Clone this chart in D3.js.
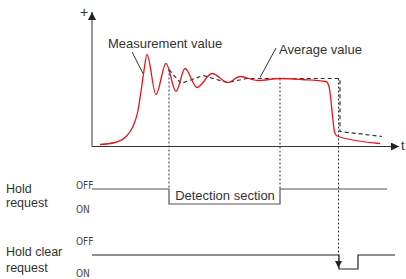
<!DOCTYPE html>
<meta charset="utf-8">
<style>
  body { margin: 0; background: #fff; }
  svg { display: block; }
  text { font-family: "Liberation Sans", Arial, sans-serif; fill: #333; }
  .lbl { font-size: 13px; }
  .side { font-size: 12.5px; }
  .state { font-family: "Liberation Sans Narrow", "DejaVu Sans Condensed", sans-serif; font-size: 10px; fill: #444; }
</style>
<script src="https://d3js.org/d3.v7.min.js"></script>
<body>
<svg width="406" height="279"></svg>
<script>
// measurement value (time, level)
var measT = [8, 23, 34, 41, 46, 49, 52, 55, 64, 74, 84, 93, 105, 120, 136, 148, 166, 188, 210, 234, 237, 243, 246, 288];
var measV = [2, 4, 10, 20, 36, 55, 76, 92, 52, 83, 55, 78, 59, 73, 64, 70, 66, 68, 67, 65, 60, 13, 10, 3];
// average value
var avgT = [77, 89, 111, 135, 155, 168, 248, 248, 290];
var avgV = [77, 63, 71, 64, 68, 68, 68, 15, 10];
// timing signals: change times and states
var holdReqT = [0, 77, 188, 295];
var holdReqS = ["OFF", "ON", "OFF", "OFF"];
var clearT = [0, 247, 266, 303];
var clearS = ["OFF", "ON", "OFF", "OFF"];
// detection window & markers
var detectT = [77, 188];
var clearMarkT = 247;

var svg = d3.select("svg");
var x = d3.scaleLinear().domain([0, 305]).range([92, 397]);
var y = d3.scaleLinear().domain([0, 132]).range([146.5, 14.5]);

var meas = measT.map(function(t, i) { return [t, measV[i]]; });
var avg = avgT.map(function(t, i) { return [t, avgV[i]]; });

// arrow marker
var defs = svg.append("defs");
defs.append("marker").attr("id", "arr").attr("viewBox", "0 0 10 10")
  .attr("refX", 10).attr("refY", 5).attr("markerWidth", 10).attr("markerHeight", 8)
  .attr("markerUnits", "userSpaceOnUse").attr("orient", "auto")
  .append("path").attr("d", "M0,0L10,5L0,10Z").attr("fill", "#222");
defs.append("marker").attr("id", "arrs").attr("viewBox", "0 0 10 10")
  .attr("refX", 10).attr("refY", 5).attr("markerWidth", 7).attr("markerHeight", 7)
  .attr("markerUnits", "userSpaceOnUse").attr("orient", "auto")
  .append("path").attr("d", "M0,0L10,5L0,10Z").attr("fill", "#222");

// axes
svg.append("line").attr("x1", x(0)).attr("y1", y(0)).attr("x2", x(0)).attr("y2", 12)
  .attr("stroke", "#333").attr("stroke-width", 1).attr("marker-end", "url(#arr)");
svg.append("line").attr("x1", x(0)).attr("y1", y(0)).attr("x2", 399).attr("y2", y(0))
  .attr("stroke", "#333").attr("stroke-width", 1).attr("marker-end", "url(#arr)");
svg.append("text").attr("class", "lbl").attr("x", 84).attr("y", 12).attr("dy", "0.35em")
  .attr("text-anchor", "middle").style("font-size", "14px").text("+");
svg.append("text").attr("class", "lbl").attr("x", 401).attr("y", y(0) - 1).attr("dy", "0.35em").text("t");

// timing rows
var rows = [
  { t: holdReqT, s: holdReqS, off: 189, on: 204, label: ["Hold", "request"], ly: [189, 203], sy: [185, 209], color: "#555" },
  { t: clearT, s: clearS, off: 255, on: 269, label: ["Hold clear", "request"], ly: [252, 268], sy: [241, 273], color: "#222" }
];
var step = d3.line().curve(d3.curveStepAfter);
rows.forEach(function(r) {
  var pts = r.t.map(function(t, i) { return [x(t), r.s[i] === "OFF" ? r.off : r.on]; });
  svg.append("path").attr("d", step(pts)).attr("fill", "none")
    .attr("stroke", r.color).attr("stroke-width", 1.2);
  r.label.forEach(function(l, i) {
    svg.append("text").attr("class", "side").attr("x", 6).attr("y", r.ly[i]).attr("dy", "0.35em").text(l);
  });
  svg.append("text").attr("class", "state").attr("x", 76).attr("y", r.sy[0]).attr("dy", "0.35em").text("OFF");
  svg.append("text").attr("class", "state").attr("x", 76).attr("y", r.sy[1]).attr("dy", "0.35em").text("ON");
});

// dotted guides
svg.append("line").attr("x1", x(detectT[0])).attr("x2", x(detectT[0]))
  .attr("y1", y(avgV[0])).attr("y2", 189)
  .attr("stroke", "#333").attr("stroke-dasharray", "2,2");
svg.append("line").attr("x1", x(detectT[1])).attr("x2", x(detectT[1]))
  .attr("y1", y(68)).attr("y2", 189)
  .attr("stroke", "#333").attr("stroke-dasharray", "2,2");
svg.append("line").attr("x1", x(clearMarkT) - 0.5).attr("x2", x(clearMarkT) - 0.5)
  .attr("y1", y(68)).attr("y2", 268)
  .attr("stroke", "#333").attr("stroke-dasharray", "2,2").attr("marker-end", "url(#arrs)");

svg.append("text").attr("class", "lbl").attr("x", (x(detectT[0]) + x(detectT[1])) / 2 + 0.5)
  .attr("y", 195.5).attr("dy", "0.35em").attr("text-anchor", "middle").text("Detection section");

// average (dashed)
svg.append("path").datum(avg)
  .attr("d", d3.line().x(function(d) { return x(d[0]); }).y(function(d) { return y(d[1]); }))
  .attr("fill", "none").attr("stroke", "#333").attr("stroke-width", 1.2).attr("stroke-dasharray", "4,3");

// measurement (red)
svg.append("path").datum(meas)
  .attr("d", d3.line().curve(d3.curveMonotoneX).x(function(d) { return x(d[0]); }).y(function(d) { return y(d[1]); }))
  .attr("fill", "none").attr("stroke", "#e8151e").attr("stroke-width", 1.3);

// annotations
svg.append("line").attr("x1", 132).attr("y1", 52).attr("x2", x(51)).attr("y2", y(73))
  .attr("stroke", "#333");
svg.append("text").attr("class", "lbl").attr("x", 108).attr("y", 43).attr("dy", "0.35em").text("Measurement value");
svg.append("line").attr("x1", 276).attr("y1", 48).attr("x2", x(168)).attr("y2", y(68) - 1)
  .attr("stroke", "#333");
svg.append("text").attr("class", "lbl").attr("x", 279).attr("y", 49).attr("dy", "0.35em").text("Average value");
</script>
</body>
